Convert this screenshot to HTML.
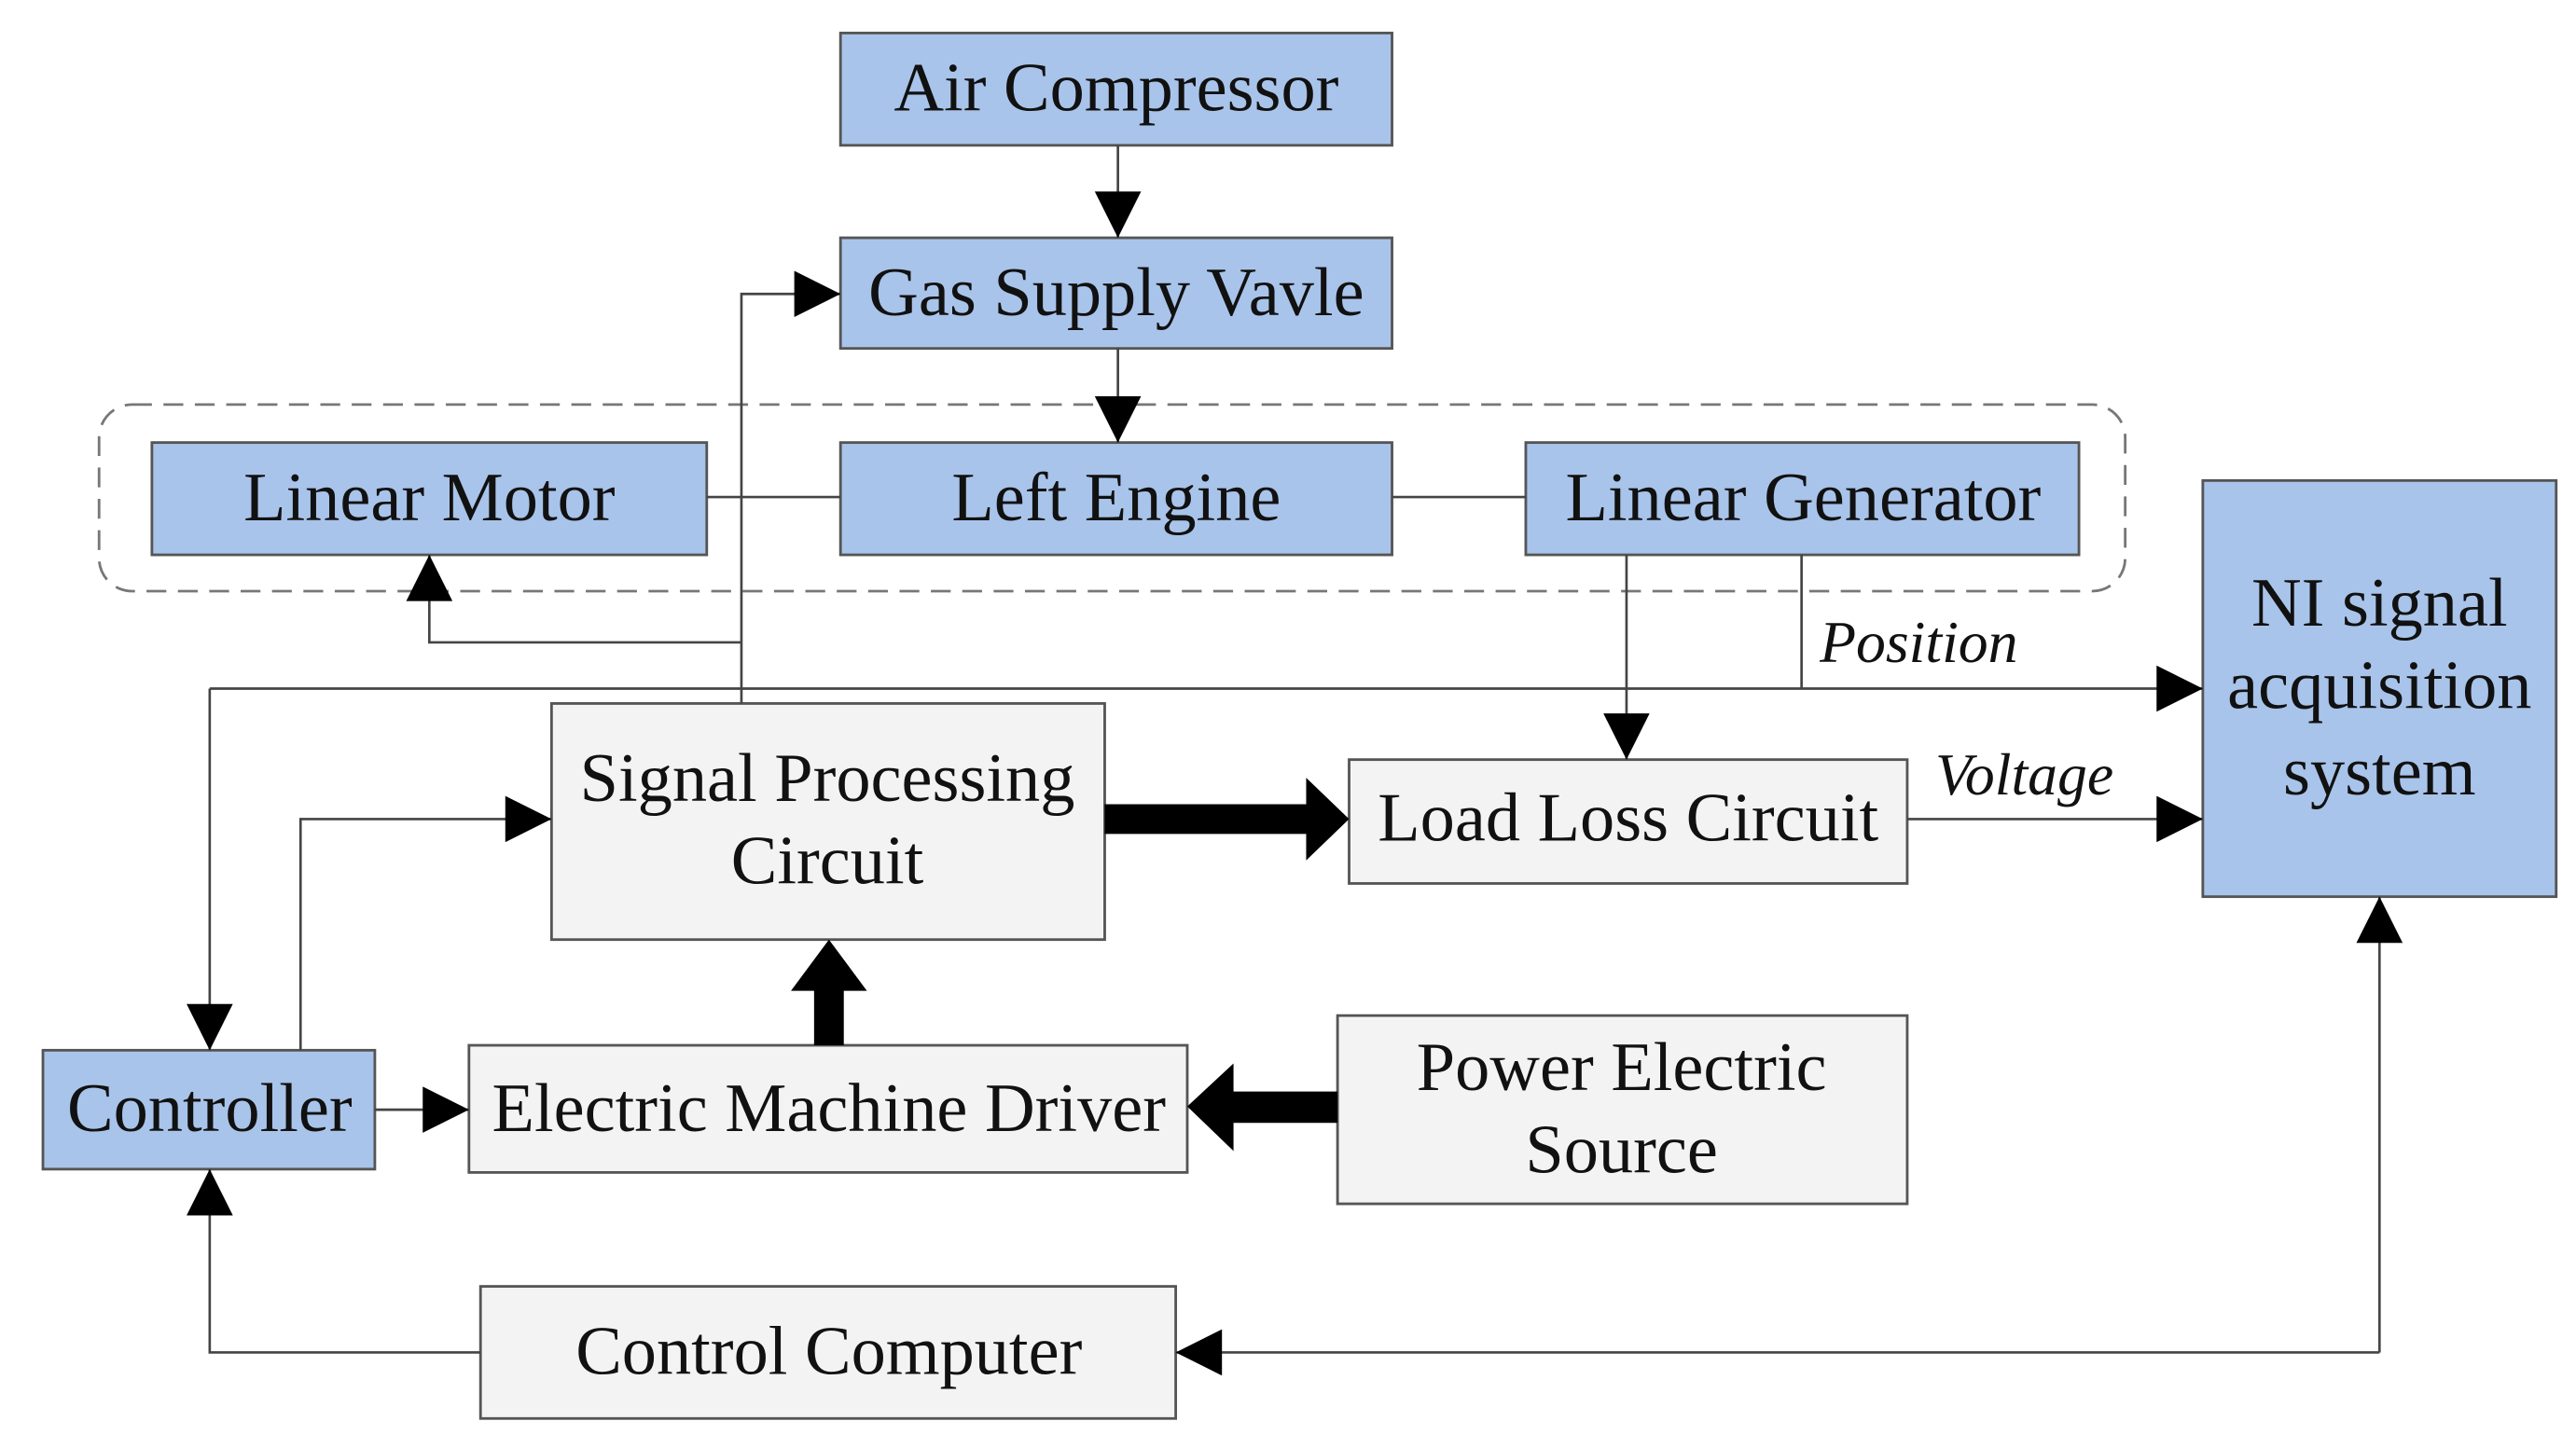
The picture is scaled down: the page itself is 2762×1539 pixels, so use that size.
<!DOCTYPE html>
<html><head><meta charset="utf-8"><style>
html,body{margin:0;padding:0;background:#fff;}
svg{display:block}
text{font-family:"Liberation Serif",serif;fill:#111;}
</style></head><body>
<svg width="2762" height="1539" viewBox="0 0 1560 869" preserveAspectRatio="none" xmlns="http://www.w3.org/2000/svg">
<defs>
<marker id="a" viewBox="0 0 10 10" refX="10" refY="5" markerWidth="36" markerHeight="28" markerUnits="userSpaceOnUse" orient="auto"><path d="M0,0L10,5L0,10z" fill="#000"/></marker>
</defs>
<g stroke="#555" stroke-width="1.6">
<rect x="60" y="245" width="1227" height="113" rx="20" fill="none" stroke="#777" stroke-dasharray="12,7"/>
<rect x="509" y="20" width="334" height="68" fill="#a9c4ea"/>
<rect x="509" y="144" width="334" height="67" fill="#a9c4ea"/>
<rect x="92" y="268" width="336" height="68" fill="#a9c4ea"/>
<rect x="509" y="268" width="334" height="68" fill="#a9c4ea"/>
<rect x="924" y="268" width="335" height="68" fill="#a9c4ea"/>
<rect x="1334" y="291" width="214" height="252" fill="#a9c4ea"/>
<rect x="26" y="636" width="201" height="72" fill="#a9c4ea"/>
<rect x="334" y="426" width="335" height="143" fill="#f3f3f3"/>
<rect x="817" y="460" width="338" height="75" fill="#f3f3f3"/>
<rect x="284" y="633" width="435" height="77" fill="#f3f3f3"/>
<rect x="810" y="615" width="345" height="114" fill="#f3f3f3"/>
<rect x="291" y="779" width="421" height="80" fill="#f3f3f3"/>
</g>
<g stroke="#444" stroke-width="1.5" fill="none">
<line x1="677" y1="88" x2="677" y2="144" marker-end="url(#a)"/>
<line x1="677" y1="211" x2="677" y2="268" marker-end="url(#a)"/>
<line x1="428" y1="301" x2="509" y2="301"/>
<line x1="843" y1="301" x2="924" y2="301"/>
<polyline points="449,426 449,178 509,178" marker-end="url(#a)"/>
<polyline points="449,389 260,389 260,336" marker-end="url(#a)"/>
<line x1="127" y1="417" x2="1334" y2="417" marker-end="url(#a)"/>
<line x1="127" y1="417" x2="127" y2="636" marker-end="url(#a)"/>
<line x1="1091" y1="336" x2="1091" y2="417"/>
<line x1="985" y1="336" x2="985" y2="460" marker-end="url(#a)"/>
<line x1="1155" y1="496" x2="1334" y2="496" marker-end="url(#a)"/>
<polyline points="182,636 182,496 334,496" marker-end="url(#a)"/>
<line x1="227" y1="672" x2="284" y2="672" marker-end="url(#a)"/>
<polyline points="291,819 127,819 127,708" marker-end="url(#a)"/>
<polyline points="1441,819 712,819" marker-end="url(#a)"/>
<polyline points="1441,819 1441,543" marker-end="url(#a)"/>
</g>
<path d="M669,487 L791,487 L791,471 L817,496 L791,521 L791,505 L669,505Z" fill="#000"/>
<path d="M493,633 L493,600 L479,600 L502,569 L525,600 L511,600 L511,633Z" fill="#000"/>
<path d="M810,661 L747,661 L747,644 L719,670 L747,697 L747,680 L810,680Z" fill="#000"/>
<g font-size="42" text-anchor="middle">
<text x="676" y="67">Air Compressor</text>
<text x="676" y="191">Gas Supply Vavle</text>
<text x="260" y="315">Linear Motor</text>
<text x="676" y="315">Left Engine</text>
<text x="1092" y="315">Linear Generator</text>
<text x="1441" y="379">NI signal</text>
<text x="1441" y="429">acquisition</text>
<text x="1441" y="481">system</text>
<text x="501" y="485">Signal Processing</text>
<text x="501" y="535">Circuit</text>
<text x="986" y="509">Load Loss Circuit</text>
<text x="127" y="685">Controller</text>
<text x="502" y="685">Electric Machine Driver</text>
<text x="982" y="660">Power Electric</text>
<text x="982" y="710">Source</text>
<text x="502" y="832">Control Computer</text>
</g>
<g font-size="36" font-style="italic">
<text x="1102" y="401">Position</text>
<text x="1172" y="481">Voltage</text>
</g>
</svg>
</body></html>
